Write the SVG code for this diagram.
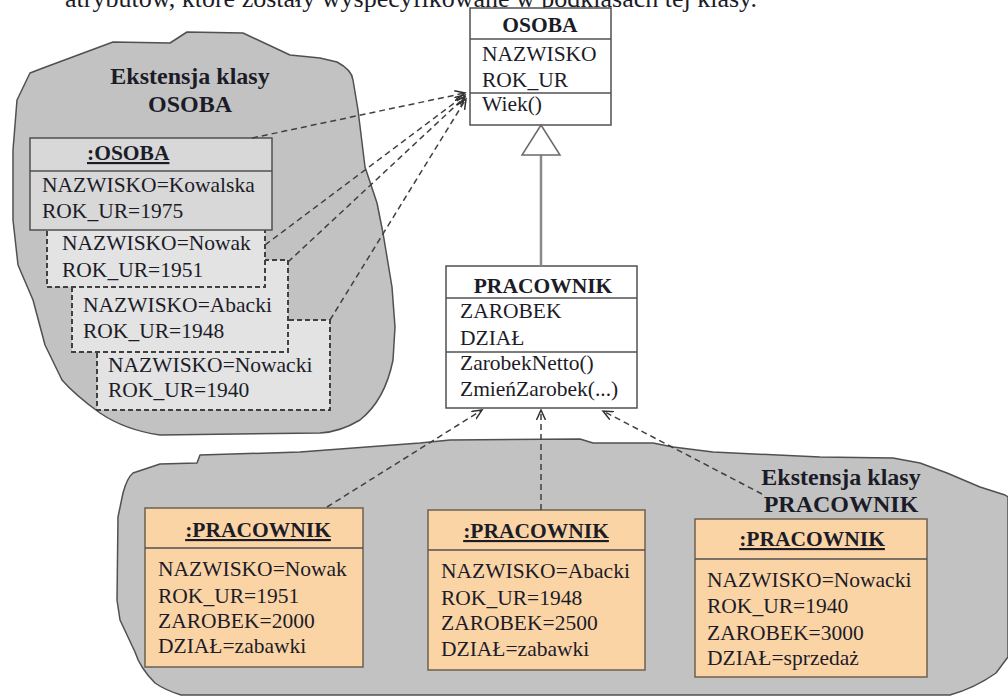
<svg xmlns="http://www.w3.org/2000/svg" width="1008" height="698" viewBox="0 0 1008 698" font-family="'Liberation Serif', 'DejaVu Serif', serif">
<style>
  text { font-family: 'Liberation Serif', 'DejaVu Serif', serif; fill: #1c1c28; }
  .attr { font-size: 21.5px; }
  .bold { font-size: 21.5px; font-weight: bold; }
  .title { font-size: 24px; font-weight: bold; text-anchor: middle; }
  .mid { text-anchor: middle; }
  .ul { text-decoration: underline; }
  .cloud { fill: #c2c2c2; stroke: #505050; stroke-width: 1.5; stroke-linejoin: round; }
  .cls { fill: #ffffff; stroke: #505050; stroke-width: 1.5; }
  .obj { fill: #d8d8d8; stroke: #505050; stroke-width: 1.5; }
  .ghost { fill: #e3e3e3; stroke: #404040; stroke-width: 2; stroke-dasharray: 5 3; }
  .inst { fill: #fbd4a6; stroke: #6e6050; stroke-width: 1.5; }
  .sep { stroke: #505050; stroke-width: 1.5; }
  .dep { fill: none; stroke: #404040; stroke-width: 1.5; stroke-dasharray: 6 4; }
</style>
<defs>
  <marker id="open" markerUnits="userSpaceOnUse" markerWidth="12" markerHeight="12" refX="10" refY="5" orient="auto">
    <path d="M0,0.5 L10,5 L0,9.5" fill="none" stroke="#303030" stroke-width="1.5"/>
  </marker>
</defs>

<rect width="1008" height="698" fill="#ffffff"/>

<text x="65" y="7" font-size="26">atrybutów, które zostały wyspecyfikowane w podklasach tej klasy.</text>

<g id="extent-osoba">
  <path class="cloud" d="M17,100 L30,73 L43,68 L113,42 L170,43 L187,32 L243,33 L290,55 L320,58 L337,62 Q352,70 353,80 L358,110 L365,167 L377,203 L383,233 L392,287 L395,327 L393,360 Q385,400 360,420 Q340,432 320,433 L160,435 Q125,430 100,413 Q75,395 62,380 L45,345 L33,300 L18,265 L13,220 L13,150 Z"/>
  <text class="title" x="190" y="84">Ekstensja klasy</text>
  <text class="title" x="190" y="112">OSOBA</text>
</g>

<g id="extent-pracownik">
  <path class="cloud" d="M197,463 L200,455 L300,452 L420,443 L450,440 L580,439 L593,443 L653,443 L673,447 L713,452 L820,457 L893,458 L920,463 L947,473 L980,487 L1005,495 L1008,497 L1008,657 L996,673 Q975,688 950,695 L181,695 Q165,690 155,683 Q140,668 135,652 L120,620 L117,600 L118,517 L123,493 Q127,478 133,473 L160,464 Z"/>
  <text class="title" x="841" y="485">Ekstensja klasy</text>
  <text class="title" x="841" y="512">PRACOWNIK</text>
</g>

<g id="ghost-nowacki">
  <rect class="ghost" x="97" y="320" width="233" height="90"/>
  <text class="attr" x="108" y="372">NAZWISKO=Nowacki</text>
  <text class="attr" x="108" y="397">ROK_UR=1940</text>
</g>
<g id="ghost-abacki">
  <rect class="ghost" x="72" y="260" width="216" height="92"/>
  <text class="attr" x="83" y="312">NAZWISKO=Abacki</text>
  <text class="attr" x="83" y="338">ROK_UR=1948</text>
</g>
<g id="ghost-nowak">
  <rect class="ghost" x="47" y="222" width="218" height="65"/>
  <text class="attr" x="62" y="250">NAZWISKO=Nowak</text>
  <text class="attr" x="62" y="277">ROK_UR=1951</text>
</g>
<g id="obj-osoba">
  <rect class="obj" x="30" y="138" width="242" height="92"/>
  <line class="sep" x1="30" y1="171" x2="272" y2="171"/>
  <text class="bold ul" x="87" y="160">:OSOBA</text>
  <text class="attr" x="42" y="192">NAZWISKO=Kowalska</text>
  <text class="attr" x="42" y="218">ROK_UR=1975</text>
</g>

<g id="class-osoba">
  <rect class="cls" x="470" y="8" width="141" height="117"/>
  <line class="sep" x1="470" y1="39" x2="611" y2="39"/>
  <line class="sep" x1="470" y1="93" x2="611" y2="93"/>
  <text class="bold mid" x="540" y="32">OSOBA</text>
  <text class="attr" x="482" y="61">NAZWISKO</text>
  <text class="attr" x="482" y="87">ROK_UR</text>
  <text class="attr" x="482" y="111">Wiek()</text>
</g>

<g id="class-pracownik">
  <rect class="cls" x="446" y="266" width="191" height="142"/>
  <line class="sep" x1="446" y1="298" x2="637" y2="298"/>
  <line class="sep" x1="446" y1="352" x2="637" y2="352"/>
  <text class="bold mid" x="543" y="293">PRACOWNIK</text>
  <text class="attr" x="460" y="318">ZAROBEK</text>
  <text class="attr" x="460" y="345">DZIAŁ</text>
  <text class="attr" x="460" y="370">ZarobekNetto()</text>
  <text class="attr" x="460" y="396">ZmieńZarobek(...)</text>
</g>

<g id="inst-nowak">
  <rect class="inst" x="145" y="508" width="218" height="159"/>
  <line class="sep" x1="145" y1="548" x2="363" y2="548"/>
  <text class="bold mid ul" x="258" y="537">:PRACOWNIK</text>
  <text class="attr" x="158" y="576">NAZWISKO=Nowak</text>
  <text class="attr" x="158" y="603">ROK_UR=1951</text>
  <text class="attr" x="158" y="628">ZAROBEK=2000</text>
  <text class="attr" x="158" y="653">DZIAŁ=zabawki</text>
</g>
<g id="inst-abacki">
  <rect class="inst" x="428" y="510" width="217" height="160"/>
  <line class="sep" x1="428" y1="550" x2="645" y2="550"/>
  <text class="bold mid ul" x="536" y="538">:PRACOWNIK</text>
  <text class="attr" x="441" y="578">NAZWISKO=Abacki</text>
  <text class="attr" x="441" y="605">ROK_UR=1948</text>
  <text class="attr" x="441" y="630">ZAROBEK=2500</text>
  <text class="attr" x="441" y="656">DZIAŁ=zabawki</text>
</g>
<g id="inst-nowacki">
  <rect class="inst" x="695" y="519" width="232" height="158"/>
  <line class="sep" x1="695" y1="559" x2="927" y2="559"/>
  <text class="bold mid ul" x="812" y="546">:PRACOWNIK</text>
  <text class="attr" x="707" y="587">NAZWISKO=Nowacki</text>
  <text class="attr" x="707" y="613">ROK_UR=1940</text>
  <text class="attr" x="707" y="640">ZAROBEK=3000</text>
  <text class="attr" x="707" y="665">DZIAŁ=sprzedaż</text>
</g>

<g id="connectors">
  <line x1="541" y1="155" x2="541" y2="266" stroke="#8a8a8a" stroke-width="2.5"/>
  <polygon points="541,125 522,155 560,155" fill="#ffffff" stroke="#6a6a6a" stroke-width="1.5"/>
  <path class="dep" d="M252,138 L465,93" marker-end="url(#open)"/>
  <path class="dep" d="M265,245 L465,95" marker-end="url(#open)"/>
  <path class="dep" d="M288,262 L465,97" marker-end="url(#open)"/>
  <path class="dep" d="M330,320 L466,99" marker-end="url(#open)"/>
  <path class="dep" d="M327,507 L482,410" marker-end="url(#open)"/>
  <path class="dep" d="M541,510 L541,410" marker-end="url(#open)"/>
  <path class="dep" d="M762,494 L603,411" marker-end="url(#open)"/>
</g>
</svg>
